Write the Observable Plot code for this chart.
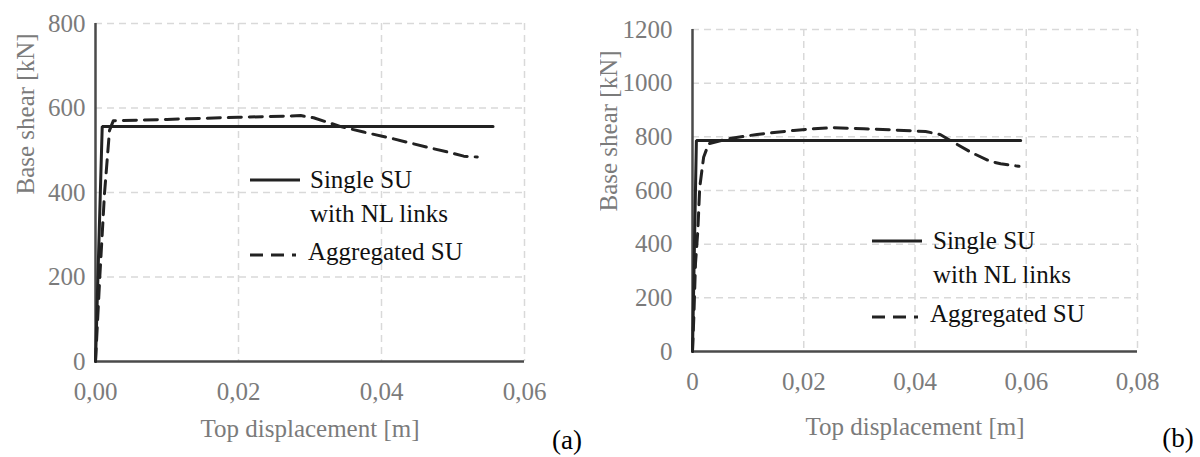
<!DOCTYPE html>
<html>
<head>
<meta charset="utf-8">
<script src="https://cdn.jsdelivr.net/npm/d3@7"></script>
<script src="https://cdn.jsdelivr.net/npm/@observablehq/plot@0.6"></script>
<style>
  html, body { margin: 0; padding: 0; background: #fff; }
  #fig { position: relative; width: 1200px; height: 457px; display: flex; overflow: hidden; }
  #fig > svg.plot-panel { flex: none; }
  #overlay { position: absolute; left: 0; top: 0; pointer-events: none; }
  #fig, #fig svg, #fig text { font-family: "Liberation Serif", "Times New Roman", Times, "DejaVu Serif", "Noto Serif", serif !important; }
</style>
</head>
<body>
<div id="fig"></div>
<script>
// ---------- Data: panel (a) ----------
const dispSingleA  = [0, 0.00094, 0.0556];
const shearSingleA = [0, 556, 556];
const dispAggA  = [0, 0.0006, 0.00126, 0.00196, 0.0025, 0.010, 0.020, 0.0270, 0.0287, 0.0305, 0.0343, 0.0375, 0.0417, 0.0464, 0.0492, 0.0515, 0.0534];
const shearAggA = [0, 200, 398, 547, 570, 573, 578, 581, 582, 577, 556, 543, 527, 507, 496, 486, 484];
const xTicksA = [0, 0.02, 0.04, 0.06];
const xTickLabelsA = ["0,00", "0,02", "0,04", "0,06"];
const yTicksA = [0, 200, 400, 600, 800];

// ---------- Data: panel (b) ----------
const dispSingleB  = [0, 0.0007, 0.059];
const shearSingleB = [0, 786, 786];
const dispAggB  = [0, 0.00024, 0.00054, 0.00096, 0.0013, 0.002, 0.0029, 0.0062, 0.0116, 0.0182, 0.0218, 0.0254, 0.0308, 0.0356, 0.0419, 0.0446, 0.0464, 0.050, 0.0536, 0.0554, 0.0587];
const shearAggB = [0, 128, 328, 451, 612, 724, 774, 792, 809, 824, 830, 834, 830, 826, 820, 808, 786, 743, 708, 700, 690];
const xTicksB = [0, 0.02, 0.04, 0.06, 0.08];
const xTickLabelsB = ["0", "0,02", "0,04", "0,06", "0,08"];
const yTicksB = [0, 200, 400, 600, 800, 1000, 1200];

// ---------- Text ----------
const xTitle = "Top displacement [m]";
const yTitle = "Base shear [kN]";
const legendLabels = [["Single SU", "with NL links"], ["Aggregated SU"]];
const panelTags = ["(a)", "(b)"];

const FONT = '"Liberation Serif", "Times New Roman", Times, "DejaVu Serif", serif';
const GRAY = "#7b7b7b";
const INK = "#222222";

const toPts = (xs, ys) => xs.map((x, i) => ({x, y: ys[i]}));

function panel(o) {
  const single = toPts(o.dispSingle, o.shearSingle);
  const agg = toPts(o.dispAgg, o.shearAgg);
  const svg = Plot.plot({
    width: 600, height: 457,
    marginLeft: o.ml, marginRight: o.mr, marginTop: o.mt, marginBottom: o.mb,
    style: {fontFamily: FONT, fontSize: "25px", color: GRAY, background: "white", overflow: "hidden"},
    x: {domain: [0, o.xTicks[o.xTicks.length - 1]], ticks: o.xTicks,
        tickFormat: d => o.xTickLabels[o.xTicks.indexOf(d)] ?? "", tickSize: 0, tickPadding: 21, label: null},
    y: {domain: [0, o.yTicks[o.yTicks.length - 1]], ticks: o.yTicks, tickFormat: d => String(d),
        tickSize: 0, tickPadding: o.yPad, label: null},
    marks: [
      Plot.ruleX(o.xTicks.slice(1), {stroke: "#d9d9d9", strokeWidth: 1.5, strokeDasharray: "7,5"}),
      Plot.ruleY(o.yTicks.slice(1), {stroke: "#d9d9d9", strokeWidth: 1.5, strokeDasharray: "7,5"}),
      Plot.ruleY([0], {stroke: "#4a4a4a", strokeWidth: 2.5}),
      Plot.ruleX([0], {stroke: "#4a4a4a", strokeWidth: 2.5}),
      Plot.line(single, {x: "x", y: "y", stroke: INK, strokeWidth: 3, strokeLinejoin: "miter"}),
      Plot.line(agg, {x: "x", y: "y", stroke: INK, strokeWidth: 3, strokeDasharray: "13,8"}),
      Plot.text([xTitle], {frameAnchor: "bottom", dy: o.xTitleDy, fill: GRAY, fontSize: 25, lineAnchor: "middle"}),
      Plot.text([yTitle], {frameAnchor: "left", dx: o.yTitleDx, dy: o.yTitleDy, rotate: -90, fill: GRAY, fontSize: 25, lineAnchor: "middle"})
    ]
  });
  svg.classList.add("plot-panel");
  return svg;
}

const fig = document.getElementById("fig");
fig.appendChild(panel({
  dispSingle: dispSingleA, shearSingle: shearSingleA, dispAgg: dispAggA, shearAgg: shearAggA,
  xTicks: xTicksA, xTickLabels: xTickLabelsA, yTicks: yTicksA,
  ml: 95, mr: 76, mt: 23, mb: 96, yPad: 10, xTitleDy: 67, yTitleDx: -70, yTitleDy: 2
}));
fig.appendChild(panel({
  dispSingle: dispSingleB, shearSingle: shearSingleB, dispAgg: dispAggB, shearAgg: shearAggB,
  xTicks: xTicksB, xTickLabels: xTickLabelsB, yTicks: yTicksB,
  ml: 92, mr: 63, mt: 29, mb: 106, yPad: 20, xTitleDy: 75, yTitleDx: -84, yTitleDy: 21
}));

// ---------- Legends and panel tags (overlay) ----------
const ov = d3.select(fig).append("svg").attr("id", "overlay").attr("width", 1200).attr("height", 457)
  .style("font-family", FONT).style("font-size", "25px");
const legends = [
  {x0: 250, x1: 300, xt: 310, y1: 180, y2: 255, xt2: 308},
  {x0: 872, x1: 922, xt: 933, y1: 241, y2: 317, xt2: 930}
];
legends.forEach(L => {
  ov.append("line").attr("x1", L.x0).attr("x2", L.x1).attr("y1", L.y1).attr("y2", L.y1)
    .attr("stroke", INK).attr("stroke-width", 3);
  ov.append("text").attr("x", L.xt).attr("y", L.y1 + 8).attr("fill", "#111").text(legendLabels[0][0]);
  ov.append("text").attr("x", L.xt).attr("y", L.y1 + 42).attr("fill", "#111").text(legendLabels[0][1]);
  ov.append("line").attr("x1", L.x0).attr("x2", L.x0 + 46).attr("y1", L.y2).attr("y2", L.y2)
    .attr("stroke", INK).attr("stroke-width", 3).attr("stroke-dasharray", "13,8");
  ov.append("text").attr("x", L.xt2).attr("y", L.y2 + 5).attr("fill", "#111").text(legendLabels[1][0]);
});
[[567, 449], [1178, 447]].forEach((p, i) => {
  ov.append("text").attr("x", p[0]).attr("y", p[1]).attr("text-anchor", "middle")
    .attr("fill", "#000").style("font-size", "27px").text(panelTags[i]);
});
</script>
</body>
</html>
